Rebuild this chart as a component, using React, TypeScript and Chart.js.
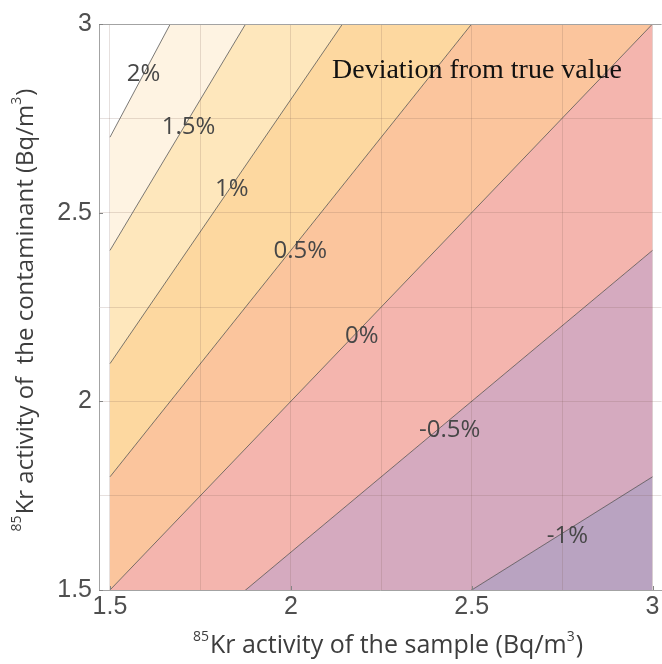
import React, { useEffect, useRef } from "react";
import { Chart, registerables } from "chart.js";

Chart.register(...registerables);

// ---- data ----
// contour levels (deviation in %) and the contaminant/sample ratio along each contour line
const contourLevels = [-1, -0.5, 0, 0.5, 1, 1.5, 2];
const contourRatios = [0.6, 0.8, 1.0, 1.2, 1.4, 1.6, 1.8];
// sample activity range covered by the computed contours (Bq/m3)
const sampleRange = [1.5, 3];
// contaminant activity range of the plot (Bq/m3)
const contaminantMin = 1.5;
const contaminantMax = 3;
// tick values and labels (both axes)
const axisTicks = [1.5, 1.75, 2, 2.25, 2.5, 2.75, 3];
const tickLabels = ["1.5", "", "2", "", "2.5", "", "3"];
const majorTicks = [1.5, 2, 2.5, 3];
// positions of contour labels (sample, contaminant), same order as contourLevels
const labelSample = [2.765, 2.439, 2.196, 2.026, 1.837, 1.717, 1.593];
const labelContaminant = [1.642, 1.923, 2.172, 2.397, 2.562, 2.726, 2.867];

// ---- styling ----
// colour of the band just below each contour line
const bandColors = ["#B9A3C1", "#D5AABF", "#F4B5AE", "#FBC59D", "#FDD8A0", "#FEE7BC", "#FEF3E2"];
const X_MIN = 1.5 - 11 / 362;
const X_MAX = X_MIN + 563 / 362;
const GRID = "rgba(120,90,80,0.19)";
const FRAME = "#a3a3a3";
const TICK_COLOR = "#4f4f4f";
const TITLE_COLOR = "#3d3d3d";

type Part = { t: string; sup?: boolean };

function drawParts(
  ctx: CanvasRenderingContext2D,
  parts: Part[],
  cx: number,
  y: number,
  mainFont: string,
  supFont: string
) {
  let total = 0;
  for (const p of parts) {
    ctx.font = p.sup ? supFont : mainFont;
    total += ctx.measureText(p.t).width + (p.sup ? 1 : 0);
  }
  let x = cx - total / 2;
  ctx.textAlign = "left";
  ctx.textBaseline = "alphabetic";
  for (const p of parts) {
    ctx.font = p.sup ? supFont : mainFont;
    ctx.fillText(p.t, x, p.sup ? y - 12 : y);
    x += ctx.measureText(p.t).width + (p.sup ? 1 : 0);
  }
}

const overlayPlugin = {
  id: "overlay",
  afterDraw(chart: any) {
    const ctx: CanvasRenderingContext2D = chart.ctx;
    const { left, right, top, bottom } = chart.chartArea;
    const xs = chart.scales.x;
    const ys = chart.scales.y;
    ctx.save();
    // top frame line
    ctx.strokeStyle = FRAME;
    ctx.lineWidth = 1;
    ctx.beginPath();
    ctx.moveTo(left, Math.round(top) + 0.5);
    ctx.lineTo(right, Math.round(top) + 0.5);
    ctx.stroke();
    // inward tick marks
    ctx.strokeStyle = "#858585";
    ctx.beginPath();
    for (const v of majorTicks) {
      const px = Math.round(xs.getPixelForValue(v)) + 0.5;
      ctx.moveTo(px, bottom);
      ctx.lineTo(px, bottom - 4);
      const py = Math.round(ys.getPixelForValue(v)) + 0.5;
      ctx.moveTo(left, py);
      ctx.lineTo(left + 4, py);
    }
    ctx.stroke();

    // contour labels
    ctx.fillStyle = "#474747";
    ctx.font = '24px "Open Sans"';
    ctx.textAlign = "center";
    ctx.textBaseline = "middle";
    contourLevels.forEach((lvl, i) => {
      const px = xs.getPixelForValue(labelSample[i]);
      const py = ys.getPixelForValue(labelContaminant[i]);
      ctx.fillText(`${lvl}%`, px, py);
    });

    // annotation
    ctx.fillStyle = "#111111";
    ctx.font = '28px "Liberation Serif"';
    ctx.textAlign = "left";
    ctx.textBaseline = "alphabetic";
    ctx.fillText("Deviation from true value", 332, 78);

    // axis titles
    ctx.fillStyle = TITLE_COLOR;
    drawParts(
      ctx,
      [{ t: "85", sup: true }, { t: "Kr activity of the sample (Bq/m" }, { t: "3", sup: true }, { t: ")" }],
      388,
      653,
      '25px "Open Sans"',
      '14px "Open Sans"'
    );
    ctx.save();
    ctx.translate(33, 310);
    ctx.rotate(-Math.PI / 2);
    drawParts(
      ctx,
      [{ t: "85", sup: true }, { t: "Kr activity of  the contaminant (Bq/m" }, { t: "3", sup: true }, { t: ")" }],
      0,
      0,
      '24px "Open Sans"',
      '14px "Open Sans"'
    );
    ctx.restore();
    ctx.restore();
  },
};

export default function App() {
  const ref = useRef<HTMLCanvasElement | null>(null);

  useEffect(() => {
    if (!ref.current) return;
    // datasets from the highest contour down; each fills down to the next one,
    // the lowest fills down to the bottom of the axis
    const datasets = contourLevels
      .map((lvl, i) => ({
        label: `${lvl}%`,
        data: sampleRange.map((x) => ({ x, y: contourRatios[i] * x })),
        borderColor: "rgba(60,60,60,0.68)",
        borderWidth: 1,
        pointRadius: 0,
        tension: 0,
        fill: i === 0 ? "start" : "+1",
        backgroundColor: bandColors[i],
      }))
      .reverse();

    const tickFont = { family: "Liberation Sans", size: 25 };

    const chart = new Chart(ref.current, {
      type: "line",
      data: { datasets },
      options: {
        responsive: false,
        animation: false,
        devicePixelRatio: 1,
        layout: { padding: { top: 24, left: 0, right: 0, bottom: 0 } },
        plugins: {
          legend: { display: false },
          tooltip: { enabled: false },
          filler: { drawTime: "beforeDraw", propagate: false },
        },
        scales: {
          x: {
            type: "linear",
            min: X_MIN,
            max: X_MAX,
            afterBuildTicks: (s: any) => {
              s.ticks = axisTicks.map((v) => ({ value: v }));
            },
            afterFit: (s: any) => {
              s.height = 74;
            },
            ticks: {
              callback: (_v: any, idx: number) => tickLabels[idx],
              autoSkip: false,
              maxRotation: 0,
              padding: 2,
              color: TICK_COLOR,
              font: tickFont,
            },
            grid: { color: GRID, drawTicks: false, lineWidth: 1 },
            border: { display: true, color: FRAME },
          },
          y: {
            type: "linear",
            min: contaminantMin,
            max: contaminantMax,
            afterBuildTicks: (s: any) => {
              s.ticks = axisTicks.map((v) => ({ value: v }));
            },
            afterFit: (s: any) => {
              s.width = 99;
            },
            ticks: {
              callback: (_v: any, idx: number) => tickLabels[idx],
              autoSkip: false,
              padding: 7,
              color: TICK_COLOR,
              font: tickFont,
            },
            grid: { color: GRID, drawTicks: false, lineWidth: 1 },
            border: { display: true, color: FRAME },
          },
        },
      } as any,
      plugins: [overlayPlugin],
    });

    let alive = true;
    Promise.all([
      document.fonts.load('25px "Open Sans"'),
      document.fonts.load('25px "Liberation Sans"'),
      document.fonts.load('28px "Liberation Serif"'),
    ])
      .catch(() => null)
      .then(() => {
        if (alive) chart.update();
      });

    return () => {
      alive = false;
      chart.destroy();
    };
  }, []);

  return (
    <div
      style={{
        position: "fixed",
        left: 0,
        top: 0,
        width: 662,
        height: 664,
        overflow: "hidden",
        background: "#ffffff",
      }}
    >
      <canvas ref={ref} width={662} height={664} style={{ display: "block" }} />
    </div>
  );
}
